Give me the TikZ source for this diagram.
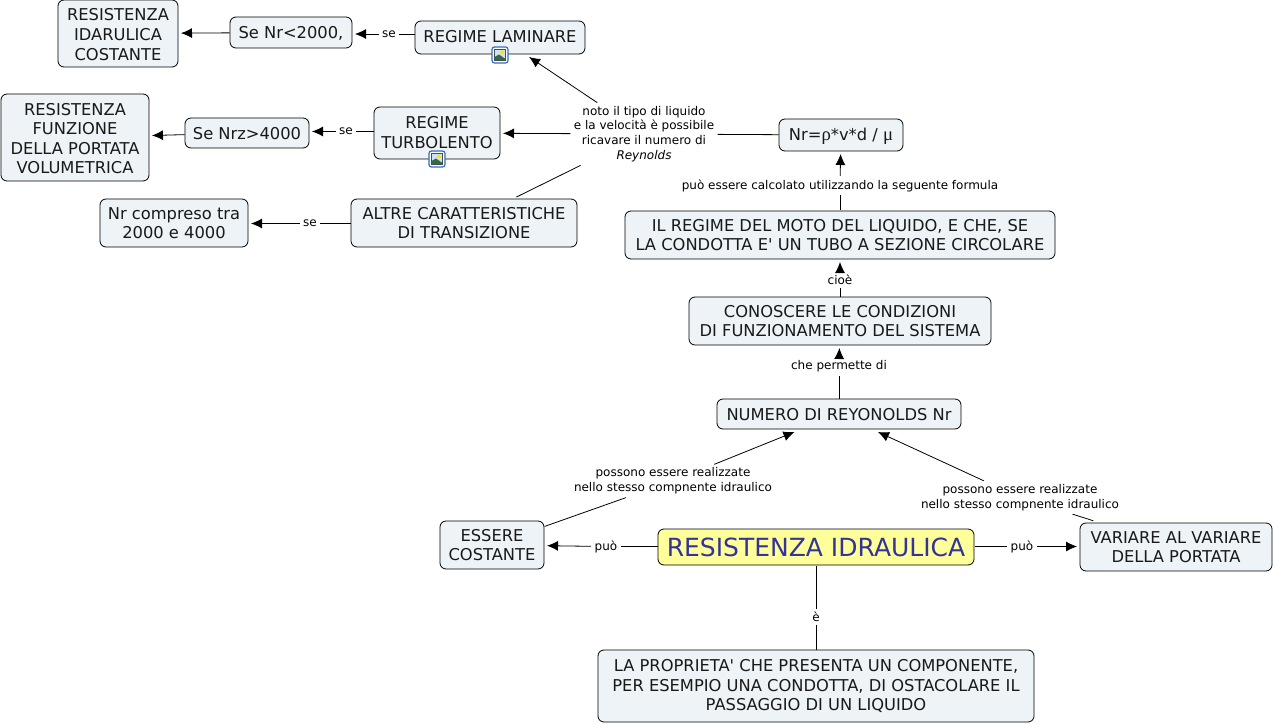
\documentclass[tikz,border=0pt]{standalone}
\usepackage{fontspec}
\setmainfont{DejaVu Sans}
\newfontfamily\greekfont[Scale=1.15]{Liberation Serif}
\usetikzlibrary{arrows.meta}
\definecolor{boxfill}{HTML}{EDF3F6}
\definecolor{rootfill}{HTML}{FFFF99}
\definecolor{roottext}{HTML}{333399}
\definecolor{iconblue}{HTML}{2F6DBF}
\definecolor{iconsky}{HTML}{CFE3F5}
\definecolor{iconhill}{HTML}{2F6B45}
\tikzset{
  x=1bp,y=-1bp,
  concept/.style={draw=black,line width=0.8bp,fill=boxfill,rounded corners=6bp,align=center,inner sep=0pt,outer sep=3bp,
     font=\fontsize{16.3bp}{19.6bp}\selectfont,text=black!90},
  root/.style={concept,fill=rootfill,text=roottext,font=\fontsize{25bp}{28bp}\selectfont},
  linklabel/.style={align=center,inner sep=1bp,outer sep=2.5bp,font=\fontsize{12bp}{14.7bp}\selectfont,text=black},
  plain/.style={line width=0.8bp,draw=black,shorten <=-2.5bp},
  arrowed/.style={line width=0.8bp,draw=black,-{Latex[length=11bp,width=10bp]}},
  arrowedfrombox/.style={arrowed,shorten <=-2.5bp},
}
% pads the top of a box by 2bp, which moves a centred text down by 1bp
\newcommand{\dn}[1]{\raisebox{0pt}[\dimexpr\height+2bp\relax][\depth]{#1}}
\newcommand{\conceptat}[6]{% name, l,t,r,b, text
  \node[concept,minimum width=#4bp-#2bp,minimum height=#5bp-#3bp] (#1) at ({(#2+#4)/2},{(#3+#5)/2}) {#6};}
\newcommand{\iconat}[3]{% name, x, y
  \node[draw=iconblue,fill=white,line width=1.2bp,rounded corners=2.5bp,minimum size=16bp,inner sep=0pt] (#1) at (#2,#3) {};
  \fill[iconsky] (#2-5.5,#3-5.5) rectangle (#2+5.5,#3+5.5);
  \fill[yellow!90!orange] (#2+2,#3-2.5) circle (2);
  \fill[iconhill] (#2-5.5,#3+5.5) -- (#2-5.5,#3+2) -- (#2-1,#3-0.5) -- (#2+5.5,#3+4) -- (#2+5.5,#3+5.5) -- cycle;
  \draw[black!70,line width=0.5bp] (#2-5.5,#3-5.5) rectangle (#2+5.5,#3+5.5);}
\begin{document}
\begin{tikzpicture}
\useasboundingbox (0,0) rectangle (1273,724);
% concepts
\conceptat{costante}{58}{0}{178}{67}{\dn{RESISTENZA}\\IDARULICA\\COSTANTE}
\conceptat{senr}{230}{17}{352}{48}{\dn{Se Nr<2000,}}
\conceptat{lam}{415}{21}{585}{54}{\raisebox{1.5bp}{REGIME LAMINARE}}
\conceptat{funz}{1}{94}{149}{181}{\dn{RESISTENZA}\\FUNZIONE\\DELLA PORTATA\\VOLUMETRICA}
\conceptat{senrz}{185}{118}{309}{148}{\dn{Se Nrz>4000}}
\conceptat{turbo}{374}{107}{500}{159}{\raisebox{1bp}{REGIME}\\\raisebox{1bp}{TURBOLENTO}}
\conceptat{nr}{779}{119}{903}{151}{\dn{Nr={\greekfont ρ}*v*d / {\greekfont μ}}}
\conceptat{compreso}{100}{199}{248}{247}{Nr compreso tra\\2000 e 4000}
\conceptat{altre}{351}{199}{577}{247}{ALTRE CARATTERISTICHE\\DI TRANSIZIONE}
\conceptat{moto}{625}{211}{1055}{259}{IL REGIME DEL MOTO DEL LIQUIDO, E CHE, SE\\LA CONDOTTA E\textquotesingle{} UN TUBO A SEZIONE CIRCOLARE}
\conceptat{cond}{689}{297}{991}{345}{CONOSCERE LE CONDIZIONI\\DI FUNZIONAMENTO DEL SISTEMA}
\conceptat{num}{717}{399}{961}{429}{\dn{NUMERO DI REYONOLDS Nr}}
\conceptat{ess}{440}{521}{544}{569}{ESSERE\\COSTANTE}
\conceptat{var}{1080}{523}{1272}{571}{VARIARE AL VARIARE\\DELLA PORTATA}
\conceptat{prop}{598}{650}{1034}{722}{LA PROPRIETA\textquotesingle{} CHE PRESENTA UN COMPONENTE,\\PER ESEMPIO UNA CONDOTTA, DI OSTACOLARE IL\hspace{5bp}\\PASSAGGIO DI UN LIQUIDO}
\node[root,minimum width=316bp,minimum height=36bp] (res) at (816,547) {RESISTENZA IDRAULICA};
% icons
\iconat{iconlam}{500}{55}
\iconat{iconturbo}{437}{159}
% link labels
\node[linklabel] (l1) at (389,34) {se};
\node[linklabel] (l2) at (346,131.5) {se};
\node[linklabel] (l3) at (310,223.5) {se};
\node[linklabel] (noto) at (644,134) {noto il tipo di liquido\\e la velocità è possibile\\ricavare il numero di\\\textit{Reynolds}};
\node[linklabel] (calc) at (840,185.5) {può essere calcolato utilizzando la seguente formula};
\node[linklabel] (cioe) at (840,279.5) {cioè};
\node[linklabel] (perm) at (839,366.5) {che permette di};
\node[linklabel] (pos1) at (673,481) {possono essere realizzate\\nello stesso compnente idraulico};
\node[linklabel] (pos2) at (1020,497.5) {possono essere realizzate\\nello stesso compnente idraulico};
\node[linklabel] (puo1) at (606,546.5) {può};
\node[linklabel] (puo2) at (1022,546.5) {può};
\node[linklabel] (e) at (816,617) {è};
% connectors
\draw[plain] (lam.west |- l1.east) -- (l1.east);
\draw[arrowed] (l1.west) -- (l1.west -| senr.east);
\draw[arrowedfrombox] (senr) -- (costante);
\draw[plain] (turbo.west |- l2.east) -- (l2.east);
\draw[arrowed] (l2.west) -- (l2.west -| senrz.east);
\draw[arrowedfrombox] (senrz) -- (funz);
\draw[plain] (altre.west |- l3.east) -- (l3.east);
\draw[arrowed] (l3.west) -- (l3.west -| compreso.east);
\draw[plain] (nr) -- (noto);
\draw[arrowed] (noto) -- (lam);
\draw[arrowed] (noto) -- (turbo);
\draw[plain] (altre) -- (noto);
\draw[plain] (moto) -- (calc);
\draw[arrowed] (calc) -- (nr);
\draw[plain] (cond) -- (cioe);
\draw[arrowed] (cioe) -- (moto);
\draw[plain] (num) -- (perm);
\draw[arrowed] (perm) -- (cond);
\draw[plain] (ess) -- (pos1);
\draw[arrowed] (pos1) -- (num);
\draw[plain] (var) -- (pos2);
\draw[arrowed] (pos2) -- (num);
\draw[plain] (res.west |- puo1.east) -- (puo1.east);
\draw[arrowed] (puo1) -- (ess);
\draw[plain] (res.east |- puo2.west) -- (puo2.west);
\draw[arrowed] (puo2.east) -- (puo2.east -| var.west);
\draw[plain] (prop) -- (e);
\draw[plain] (res) -- (e);
\end{tikzpicture}
\end{document}
